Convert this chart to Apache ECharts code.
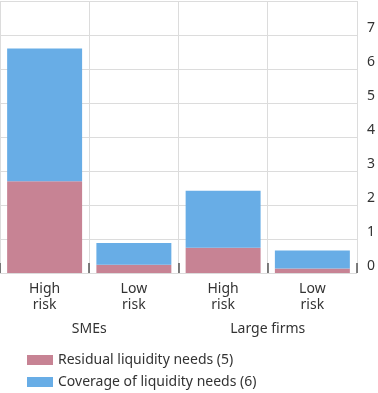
<!DOCTYPE html>
<html><head><meta charset="utf-8">
<script src="https://cdn.jsdelivr.net/npm/echarts@6/dist/echarts.min.js"></script>
<style>html,body{margin:0;padding:0;background:#fff}#c{width:378px;height:393px}</style>
</head><body><div id="c"></div>
<script>
const categories = ['High\nrisk', 'Low\nrisk', 'High\nrisk', 'Low\nrisk'];
const groups = ['SMEs', 'Large firms'];
const residual = [2.7, 0.24, 0.74, 0.13];
const coverage = [3.9, 0.64, 1.68, 0.53];
const yTicks = [0, 1, 2, 3, 4, 5, 6, 7];
const seriesNames = ['Residual liquidity needs (5)', 'Coverage of liquidity needs (6)'];

const font = 'Noto Sans';
const legendBase = {
  orient: 'vertical', left: 22, itemWidth: 26, itemHeight: 10,
  icon: 'rect', itemGap: 6,
  textStyle: { fontFamily: font, fontSize: 14, color: '#333' }
};
const chart = echarts.init(document.getElementById('c'));
chart.setOption({
  animation: false,
  textStyle: { fontFamily: font },
  grid: { left: 0, right: 20, top: 1, bottom: 120, containLabel: false },
  legend: [
    Object.assign({}, legendBase, { top: 348, data: [seriesNames[0]] }),
    Object.assign({}, legendBase, { top: 370, data: [seriesNames[1]] })
  ],
  xAxis: [{
    type: 'category', data: categories, position: 'bottom',
    axisLine: { show: false },
    axisTick: { show: true, inside: true, length: 10, lineStyle: { color: '#555', width: 1.5 } },
    axisLabel: { fontFamily: font, fontSize: 14, color: '#333', lineHeight: 16, margin: 8 },
    splitLine: { show: true, lineStyle: { color: '#dcdcdc', width: 1 } }
  }, {
    type: 'category', data: groups, position: 'bottom', gridIndex: 0,
    axisLine: { show: false }, axisTick: { show: false }, splitLine: { show: false },
    axisLabel: { fontFamily: font, fontSize: 14, color: '#333', margin: 49 }
  }],
  yAxis: {
    type: 'value', position: 'right', min: 0, max: 8, interval: 1,
    axisLine: { show: false }, axisTick: { show: false },
    axisLabel: {
      fontFamily: font, fontSize: 14, color: '#333', margin: 10, verticalAlign: 'bottom',
      formatter: v => yTicks.includes(v) ? String(v) : ''
    },
    splitLine: { lineStyle: { color: '#dcdcdc', width: 1 } }
  },
  series: [{
    name: seriesNames[0], type: 'bar', stack: 'a', data: residual, xAxisIndex: 0,
    barCategoryGap: '16%', itemStyle: { color: '#c78394' }
  }, {
    name: seriesNames[1], type: 'bar', stack: 'a', data: coverage, xAxisIndex: 0,
    barCategoryGap: '16%', itemStyle: { color: '#68ade6' }
  }]
});
</script></body></html>
